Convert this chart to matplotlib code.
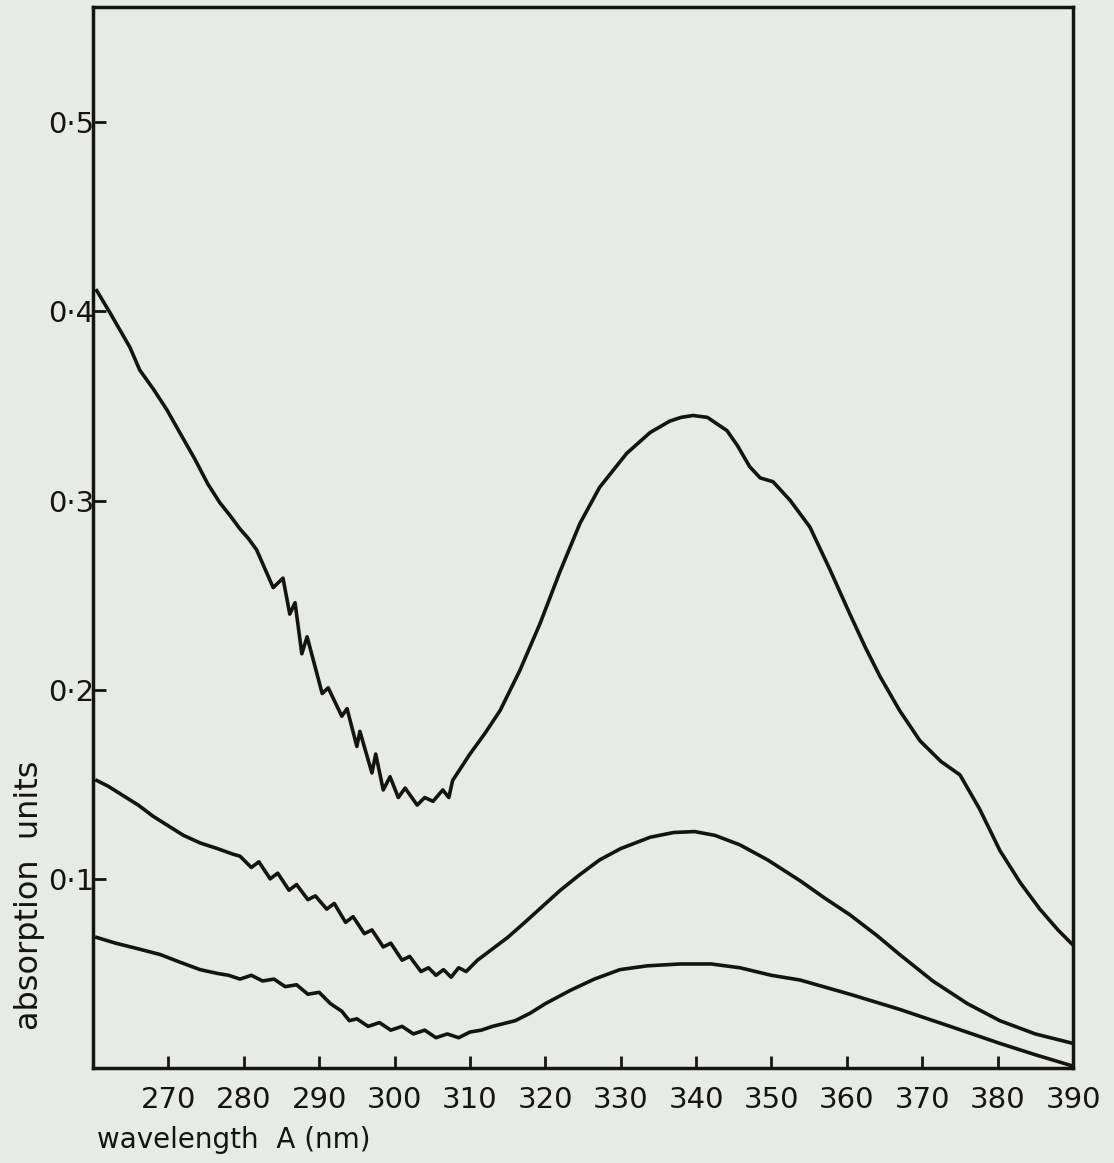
import matplotlib.pyplot as plt

# absorption spectra, three traces (upper, middle, lower)
wl_top = [260.5, 262.3, 264.9, 266.2, 268.0, 269.8, 271.5, 273.5, 275.2, 276.8, 278.2, 279.5,
          280.6, 281.7, 283.9, 285.2, 286.1, 286.8, 287.7, 288.4, 290.4, 291.2, 293.0, 293.7,
          295.0, 295.4, 297.0, 297.5, 298.5, 299.4, 300.5, 301.4, 303.0, 304.0, 305.1, 306.4,
          307.2, 307.7, 310.0, 312.0, 314.0, 316.6, 319.3, 321.9, 324.6, 327.2, 330.8,
          333.9, 336.5, 338.0, 339.6, 341.5, 344.1, 345.5, 347.1, 348.5, 350.2, 352.5, 355.1,
          357.7, 360.4, 362.5, 364.4, 367.0, 369.7, 372.5, 375.0, 377.6, 380.3, 383.0, 385.6,
          388.0, 390.0]
ab_top = [0.411, 0.399, 0.381, 0.369, 0.359, 0.348, 0.336, 0.322, 0.309, 0.299, 0.292, 0.285,
          0.280, 0.274, 0.254, 0.259, 0.240, 0.246, 0.219, 0.228, 0.198, 0.201, 0.186, 0.190,
          0.170, 0.178, 0.156, 0.166, 0.147, 0.154, 0.143, 0.148, 0.139, 0.143, 0.141, 0.147,
          0.143, 0.152, 0.166, 0.177, 0.189, 0.210, 0.235, 0.262, 0.288, 0.307, 0.325,
          0.336, 0.342, 0.344, 0.345, 0.344, 0.337, 0.329, 0.318, 0.312, 0.310, 0.300, 0.286,
          0.264, 0.240, 0.222, 0.207, 0.189, 0.173, 0.162, 0.155, 0.137, 0.115, 0.098, 0.084,
          0.073, 0.065]

wl_mid = [260.5, 262.0, 264.0, 266.0, 268.0, 270.0, 272.0, 274.2, 276.5, 278.6, 279.5, 281.0,
          282.0, 283.5, 284.5, 286.0, 287.0, 288.5, 289.5, 291.0, 292.0, 293.5, 294.5, 296.0,
          297.0, 298.5, 299.5, 301.0, 302.0, 303.5, 304.5, 305.5, 306.5, 307.5, 308.5, 309.5,
          311.0, 313.0, 315.0, 317.0, 319.5, 322.0, 324.5, 327.2, 330.0, 333.9, 337.0, 339.8,
          342.5, 345.8, 349.5, 353.8, 357.0, 360.4, 364.0, 367.0, 371.4, 376.0, 380.3, 385.0,
          390.0]
ab_mid = [0.152, 0.149, 0.144, 0.139, 0.133, 0.128, 0.123, 0.119, 0.116, 0.113, 0.112, 0.106,
          0.109, 0.100, 0.103, 0.094, 0.097, 0.089, 0.091, 0.084, 0.087, 0.077, 0.080, 0.071,
          0.073, 0.064, 0.066, 0.057, 0.059, 0.051, 0.053, 0.049, 0.052, 0.048, 0.053, 0.051,
          0.057, 0.063, 0.069, 0.076, 0.085, 0.094, 0.102, 0.110, 0.116, 0.122, 0.1245, 0.125,
          0.123, 0.118, 0.110, 0.099, 0.090, 0.081, 0.070, 0.060, 0.046, 0.034, 0.025, 0.018,
          0.013]

wl_low = [260.5, 263.0, 266.0, 268.9, 271.5, 274.2, 276.5, 278.0, 279.5, 281.0, 282.5, 284.0,
          285.5, 287.0, 288.5, 290.0, 291.5, 293.0, 294.0, 295.0, 296.5, 298.0, 299.5, 301.0,
          302.5, 304.0, 305.5, 307.0, 308.5, 310.0, 311.5, 313.0, 316.0, 318.0, 320.0, 323.3,
          326.5, 329.9, 333.5, 337.9, 342.0, 345.8, 350.0, 353.8, 360.4, 367.0, 373.7, 380.3,
          385.0, 390.0]
ab_low = [0.069, 0.066, 0.063, 0.060, 0.056, 0.052, 0.050, 0.049, 0.047, 0.049, 0.046, 0.047,
          0.043, 0.044, 0.039, 0.040, 0.034, 0.030, 0.025, 0.026, 0.022, 0.024, 0.020, 0.022,
          0.018, 0.020, 0.016, 0.018, 0.016, 0.019, 0.020, 0.022, 0.025, 0.029, 0.034, 0.041,
          0.047, 0.052, 0.054, 0.055, 0.055, 0.053, 0.049, 0.0465, 0.039, 0.031, 0.022, 0.013,
          0.007, 0.001]

x_ticks = [270, 280, 290, 300, 310, 320, 330, 340, 350, 360, 370, 380, 390]
y_ticks = [0.1, 0.2, 0.3, 0.4, 0.5]
y_labels = ['0·1', '0·2', '0·3', '0·4', '0·5']

ink = '#141414'
paper = '#e8ebe5'

fig = plt.figure(figsize=(11.14, 11.63), dpi=100, facecolor=paper)
ax = fig.add_axes([0.0835, 0.0817, 0.8797, 0.9123])
ax.set_facecolor(paper)

for wl, ab in [(wl_top, ab_top), (wl_mid, ab_mid), (wl_low, ab_low)]:
    ax.plot(wl, ab, color=ink, linewidth=2.6, solid_joinstyle='round')

ax.set_xlim(260, 390)
ax.set_ylim(0, 0.561)

ax.set_xticks(x_ticks)
ax.set_xticklabels([str(t) for t in x_ticks], family='DejaVu Sans', fontsize=21)
ax.set_yticks(y_ticks)
ax.set_yticklabels(y_labels, family='DejaVu Sans', fontsize=21)
ax.tick_params(axis='x', direction='in', length=9, width=2, pad=13, colors=ink)
ax.tick_params(axis='y', direction='in', length=9, width=2, pad=-1, colors=ink)

for s in ax.spines.values():
    s.set_linewidth(2.5)
    s.set_color(ink)

fig.text(97 / 1114, 1 - 1140 / 1163, 'wavelength  A (nm)', fontsize=20, color=ink,
         ha='left', va='center')
fig.text(30 / 1114, 1 - 895 / 1163, 'absorption  units', fontsize=23, color=ink,
         rotation=90, ha='center', va='center')

fig.savefig('out.png', dpi=100, facecolor=paper)
